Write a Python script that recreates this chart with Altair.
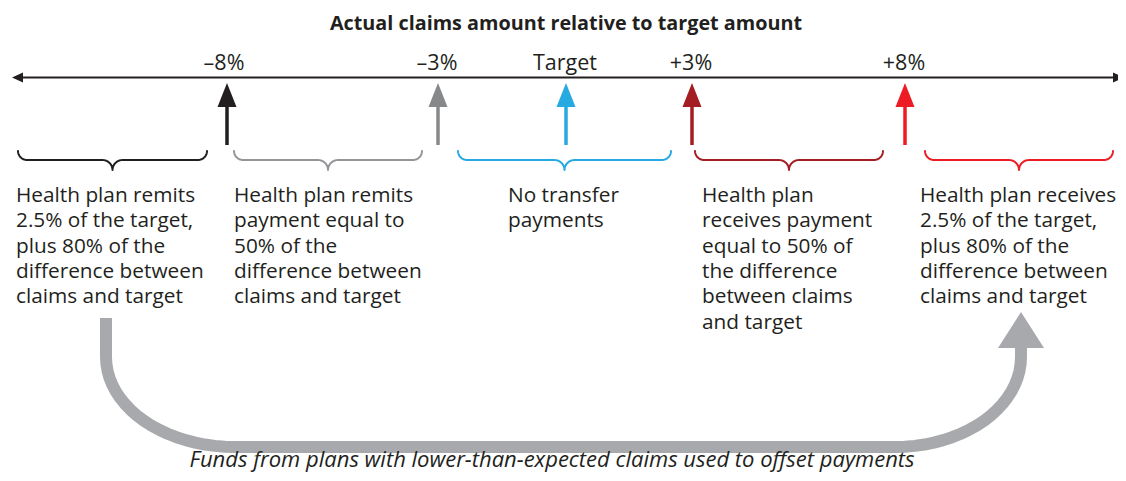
import math
import altair as alt
import pandas as pd

# ---------------- data ----------------
title_text = "Actual claims amount relative to target amount"
caption_text = "Funds from plans with lower-than-expected claims used to offset payments"

mark_labels = ["–8%", "–3%", "Target", "+3%", "+8%"]
mark_label_x = [224, 437, 565, 691, 904]
arrow_x = [227, 438, 566, 692, 905]
arrow_colors = ["#231f20", "#87888a", "#27aae1", "#a31d22", "#ed1c24"]

brace_left = [18, 234, 458, 695, 925]
brace_right = [207, 422, 671, 883, 1113]
brace_colors = ["#231f20", "#939598", "#27aae1", "#a31d22", "#ed1c24"]

block_x = [16, 234, 508, 702, 920]
block_lines = [
    ["Health plan remits", "2.5% of the target,", "plus 80% of the",
     "difference between", "claims and target"],
    ["Health plan remits", "payment equal to", "50% of the",
     "difference between", "claims and target"],
    ["No transfer", "payments"],
    ["Health plan", "receives payment", "equal to 50% of",
     "the difference", "between claims", "and target"],
    ["Health plan receives", "2.5% of the target,", "plus 80% of the",
     "difference between", "claims and target"],
]

TEXT = "#231f20"
ARROW_GRAY = "#a7a9ac"

# ---------------- layout helpers ----------------
axis_y = 77.5
axis_x0, axis_x1 = 12, 1124
arrow_tip_y, arrow_base_y, arrow_bottom_y = 83, 107, 145
arrow_half = 9.5

brace_top, brace_mid, brace_tip = 151, 160, 171
first_baseline, line_gap = 202, 25.3

XSCALE = alt.Scale(domain=[8, 1118], nice=False, zero=False)
YSCALE = alt.Scale(domain=[8, 473], reverse=True, nice=False, zero=False)


def xs(f="x", **kw):
    return alt.X(f"{f}:Q", scale=XSCALE, axis=None, **kw)


def ys(f="y", **kw):
    return alt.Y(f"{f}:Q", scale=YSCALE, axis=None, stack=None, **kw)


# axis line
axis_df = pd.DataFrame({"x": [axis_x0 + 4, axis_x1 - 4], "y": [axis_y, axis_y]})
axis_line = alt.Chart(axis_df).mark_line(color=TEXT, strokeWidth=2).encode(x=xs(), y=ys())

# axis arrowheads (horizontal triangles)
ah_rows = []
for k, (tip, base) in enumerate([(axis_x0, axis_x0 + 11), (axis_x1, axis_x1 - 11)]):
    for yy, xx in [(axis_y - 5, base), (axis_y, tip), (axis_y + 5, base)]:
        ah_rows.append({"id": k, "y": yy, "x": xx, "x2": base})
axis_heads = alt.Chart(pd.DataFrame(ah_rows)).mark_area(orient="horizontal", color=TEXT).encode(
    y=alt.Y("y:Q", scale=YSCALE, axis=None),
    x=xs(stack=None), x2="x2:Q", detail="id:N")

# labels above axis
lab_df = pd.DataFrame({"x": mark_label_x, "y": [70] * 5, "t": mark_labels})
labels = alt.Chart(lab_df).mark_text(font="Open Sans", fontSize=21.5, color=TEXT,
                                     baseline="alphabetic", align="center").encode(
    x=xs(), y=ys(), text="t:N")

# title
title_df = pd.DataFrame({"x": [566], "y": [30], "t": [title_text]})
title = alt.Chart(title_df).mark_text(font="Open Sans", fontSize=19.8, fontWeight="bold", color=TEXT,
                                      baseline="alphabetic", align="center").encode(
    x=xs(), y=ys(), text="t:N")

# vertical arrows: shafts
shaft_rows = []
for k, (ax, c) in enumerate(zip(arrow_x, arrow_colors)):
    shaft_rows.append({"id": k, "x": ax, "y": arrow_bottom_y, "c": c})
    shaft_rows.append({"id": k, "x": ax, "y": arrow_base_y - 2, "c": c})
shafts = alt.Chart(pd.DataFrame(shaft_rows)).mark_line(strokeWidth=3.5, strokeCap="butt").encode(
    x=xs(), y=ys(), detail="id:N", color=alt.Color("c:N", scale=None))

# vertical arrows: heads
head_rows = []
for k, (ax, c) in enumerate(zip(arrow_x, arrow_colors)):
    for xx, yy in [(ax - arrow_half, arrow_base_y), (ax, arrow_tip_y), (ax + arrow_half, arrow_base_y)]:
        head_rows.append({"id": k, "x": xx, "y": yy, "y2": arrow_base_y, "c": c})
heads = alt.Chart(pd.DataFrame(head_rows)).mark_area(orient="vertical").encode(
    x=xs(), y=ys(), y2="y2:Q", detail="id:N", color=alt.Color("c:N", scale=None))


# braces (shape geometry: quarter arcs at the ends and at the central point)
def brace_points(x0, x1, r=9, r2=10, n=10):
    xc = (x0 + x1) / 2
    pts = []
    cx, cy = x0 + r, brace_top
    for i in range(n + 1):
        a = math.pi - (math.pi / 2) * i / n
        pts.append((cx + r * math.cos(a), cy + r * math.sin(a)))
    cx, cy = xc - r2, brace_mid + r2
    for i in range(n + 1):
        a = -math.pi / 2 + (math.pi / 2) * i / n
        pts.append((cx + r2 * math.cos(a), cy + r2 * math.sin(a)))
    cx, cy = xc + r2, brace_mid + r2
    for i in range(n + 1):
        a = math.pi + (math.pi / 2) * i / n
        pts.append((cx + r2 * math.cos(a), cy + r2 * math.sin(a)))
    cx, cy = x1 - r, brace_top
    for i in range(n + 1):
        a = math.pi / 2 - (math.pi / 2) * i / n
        pts.append((cx + r * math.cos(a), cy + r * math.sin(a)))
    return pts


brace_rows = []
for k, (a, b, c) in enumerate(zip(brace_left, brace_right, brace_colors)):
    for o, (px, py) in enumerate(brace_points(a, b)):
        brace_rows.append({"id": k, "o": o, "x": px, "y": py, "c": c})
braces = alt.Chart(pd.DataFrame(brace_rows)).mark_line(strokeWidth=2, strokeCap="round",
                                                       strokeJoin="round").encode(
    x=xs(), y=ys(), detail="id:N", order="o:Q", color=alt.Color("c:N", scale=None))

# text blocks
txt_rows = []
for bx, lines in zip(block_x, block_lines):
    for i, ln in enumerate(lines):
        txt_rows.append({"x": bx, "y": first_baseline + i * line_gap, "t": ln})
blocks = alt.Chart(pd.DataFrame(txt_rows)).mark_text(font="Open Sans", fontSize=20.8, color=TEXT,
                                                     baseline="alphabetic", align="left").encode(
    x=xs(), y=ys(), text="t:N")

# big curved arrow
big = [(106, 318), (106, 357)]
cx, cy, rx, ry = 235, 357, 129, 90
for i in range(1, 21):
    a = math.pi - (math.pi / 2) * i / 20
    big.append((cx + rx * math.cos(a), cy + ry * math.sin(a)))
cx, cy, rx, ry = 895, 357, 126, 90
for i in range(0, 21):
    a = math.pi / 2 - (math.pi / 2) * i / 20
    big.append((cx + rx * math.cos(a), cy + ry * math.sin(a)))
big.append((1021, 346))
big_df = pd.DataFrame({"o": range(len(big)), "x": [p[0] for p in big], "y": [p[1] for p in big]})
big_line = alt.Chart(big_df).mark_line(color=ARROW_GRAY, strokeWidth=12, strokeCap="butt",
                                       strokeJoin="round").encode(x=xs(), y=ys(), order="o:Q")

big_head_df = pd.DataFrame({"x": [998, 1021, 1044], "y": [348, 312, 348], "y2": [348] * 3})
big_head = alt.Chart(big_head_df).mark_area(orient="vertical", color=ARROW_GRAY).encode(
    x=xs(), y=ys(), y2="y2:Q")

# caption
cap_df = pd.DataFrame({"x": [552], "y": [467], "t": [caption_text]})
caption = alt.Chart(cap_df).mark_text(font="Open Sans", fontSize=22, fontStyle="italic", color=TEXT,
                                      baseline="alphabetic", align="center").encode(
    x=xs(), y=ys(), text="t:N")

chart = alt.layer(
    big_line, big_head, axis_line, axis_heads, shafts, heads, braces,
    title, labels, blocks, caption
).properties(width=1110, height=465, padding=0, autosize="none", background="white"
).configure_view(stroke=None)

chart.save("out.html", embed_options={"renderer": "svg", "actions": False})
